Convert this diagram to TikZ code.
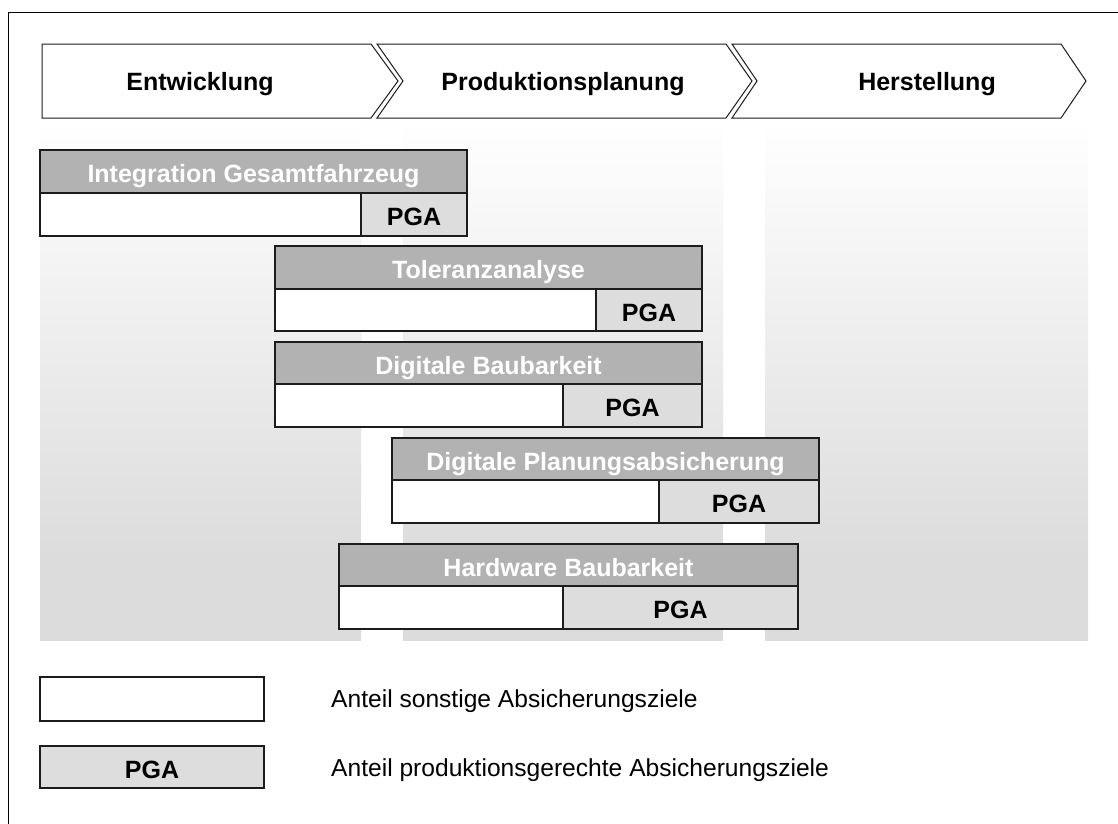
\documentclass[tikz,border=0pt]{standalone}
\usepackage{fontspec}
\setmainfont{Liberation Sans}
\definecolor{hdrgray}{HTML}{B2B2B2}
\definecolor{pgagray}{HTML}{DDDDDD}
\definecolor{colbot}{HTML}{DCDCDC}
\definecolor{edge}{HTML}{1C1C1C}
% phase column: light grey at the bottom fading to white at the top
\pgfdeclareverticalshading{phaseshade}{100bp}{color(0bp)=(colbot); color(25bp)=(colbot); color(33bp)=(colbot); color(75bp)=(white); color(100bp)=(white)}
\begin{document}
\begin{tikzpicture}[x=1pt,y=-1pt,
  boldfont/.style={font=\bfseries\fontsize{25}{29}\selectfont},
  phase/.style={draw=edge, line width=1pt, fill=white},
  phaselabel/.style={boldfont, inner sep=0pt, text height=17.5pt, text depth=0pt},
  cell/.style={draw=edge, line width=1.4pt, inner sep=0pt, outer sep=0pt, text height=22.5pt, text depth=0pt},
  hdr/.style={cell, fill=hdrgray, text=white, boldfont},
  rest/.style={cell, fill=white},
  pga/.style={cell, fill=pgagray, text=black, boldfont},
  legtext/.style={font=\fontsize{24.6}{29}\selectfont, inner sep=0pt, text height=17.5pt, text depth=0pt, anchor=west}
]
\useasboundingbox (0,0) rectangle (1118,823);
\clip (0,0) rectangle (1118,823);

% outer frame
\draw[line width=1pt, black] (8,830) -- (8,12) -- (1130,12);

% phase columns
\shade[shading=phaseshade] (40,120) rectangle (361,640);
\shade[shading=phaseshade] (403,120) rectangle (723,640);
\shade[shading=phaseshade] (765,120) rectangle (1088,640);

% process chevrons
\draw[phase] (42,44) -- (371,44) -- (398,81) -- (371,118) -- (42,118) -- cycle;
\draw[phase] (377,44) -- (726,44) -- (752,81) -- (726,118) -- (377,118) -- (403,81) -- cycle;
\draw[phase] (732,44) -- (1061,44) -- (1086,81) -- (1061,118) -- (732,118) -- (757,81) -- cycle;
\node[phaselabel] (ph1) at (200,82) {Entwicklung};
\node[phaselabel] (ph2) at (563,82) {Produktionsplanung};
\node[phaselabel] (ph3) at (927,82) {Herstellung};

% Integration Gesamtfahrzeug
\node[hdr, minimum width=427pt, minimum height=43pt] (b1h) at (253.5,171.5) {Integration Gesamtfahrzeug};
\node[rest, minimum width=321pt, minimum height=43pt] (b1r) at (200.5,214.5) {};
\node[pga, minimum width=106pt, minimum height=43pt] (b1p) at (414,214.5) {PGA};

% Toleranzanalyse
\node[hdr, minimum width=427pt, minimum height=43pt] (b2h) at (488.5,267.5) {Toleranzanalyse};
\node[rest, minimum width=321pt, minimum height=42pt] (b2r) at (435.5,310) {};
\node[pga, minimum width=106pt, minimum height=42pt] (b2p) at (649,310) {PGA};

% Digitale Baubarkeit
\node[hdr, minimum width=427pt, minimum height=42pt] (b3h) at (488.5,363) {Digitale Baubarkeit};
\node[rest, minimum width=288pt, minimum height=43pt] (b3r) at (419,405.5) {};
\node[pga, minimum width=139pt, minimum height=43pt] (b3p) at (632.5,405.5) {PGA};

% Digitale Planungsabsicherung
\node[hdr, minimum width=427pt, minimum height=42pt] (b4h) at (605.5,459) {Digitale Planungsabsicherung};
\node[rest, minimum width=267pt, minimum height=43pt] (b4r) at (525.5,501.5) {};
\node[pga, minimum width=160pt, minimum height=43pt] (b4p) at (739,501.5) {PGA};

% Hardware Baubarkeit
\node[hdr, minimum width=459pt, minimum height=42pt] (b5h) at (568.5,565) {Hardware Baubarkeit};
\node[rest, minimum width=224pt, minimum height=43pt] (b5r) at (451,607.5) {};
\node[pga, minimum width=235pt, minimum height=43pt] (b5p) at (680.5,607.5) {PGA};

% legend
\node[rest, minimum width=224pt, minimum height=44pt] (lg1) at (152,699) {};
\node[pga, minimum width=224pt, minimum height=42pt] (lg2) at (152,767) {PGA};
\node[legtext] (lt1) at (331,699) {Anteil sonstige Absicherungsziele};
\node[legtext] (lt2) at (331,767.5) {Anteil produktionsgerechte Absicherungsziele};
\end{tikzpicture}
\end{document}
